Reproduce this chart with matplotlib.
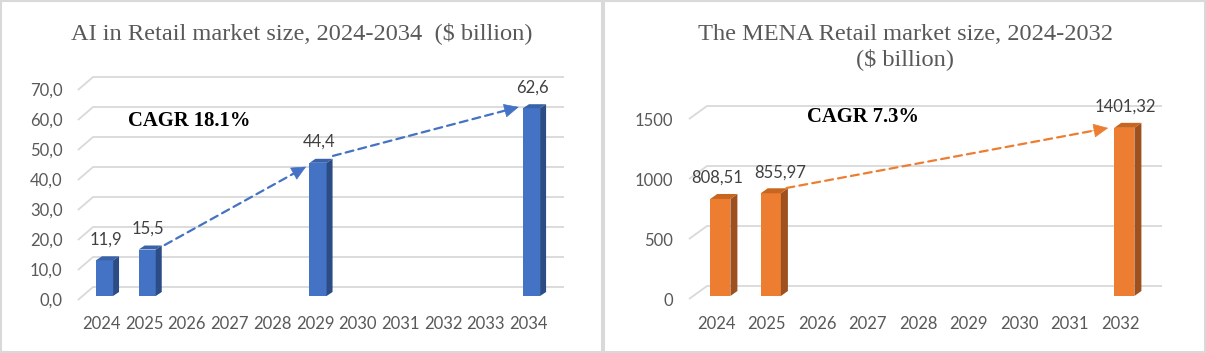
import matplotlib
matplotlib.use("Agg")
import matplotlib.pyplot as plt
from matplotlib.patches import Polygon, Rectangle
from matplotlib.transforms import blended_transform_factory, offset_copy

# ---------------- data ----------------
left_years = ["2024", "2025", "2026", "2027", "2028", "2029", "2030", "2031", "2032", "2033", "2034"]
left_values = [11.9, 15.5, None, None, None, 44.4, None, None, None, None, 62.6]
left_labels = ["11,9", "15,5", None, None, None, "44,4", None, None, None, None, "62,6"]
left_ticks = [0, 10, 20, 30, 40, 50, 60, 70]
left_ticklabels = ["0,0", "10,0", "20,0", "30,0", "40,0", "50,0", "60,0", "70,0"]
left_title = "AI in Retail market size, 2024-2034  ($ billion)"
left_cagr = "CAGR 18.1%"

right_years = ["2024", "2025", "2026", "2027", "2028", "2029", "2030", "2031", "2032"]
right_values = [808.51, 855.97, None, None, None, None, None, None, 1401.32]
right_labels = ["808,51", "855,97", None, None, None, None, None, None, "1401,32"]
right_ticks = [0, 500, 1000, 1500]
right_ticklabels = ["0", "500", "1000", "1500"]
right_title = "The MENA Retail market size, 2024-2032\n($ billion)"
right_cagr = "CAGR 7.3%"

W, H = 1206, 353
fig = plt.figure(figsize=(W / 100, H / 100), dpi=100)
fig.patch.set_facecolor("white")

SANS = ["Lato", "DejaVu Sans"]
SERIF = ["Liberation Serif", "DejaVu Serif"]
GRAY = "#595959"
GRID = "#d9d9d9"


def fig_ax(l, t, r, b):
    return fig.add_axes([l / W, 1 - b / H, (r - l) / W, (b - t) / H])


def panel(ax, years, values, labels, ticks, ticklabels, xlim, ylim,
          colors, depth, grid_frac, grid_off, lab_dx, lab_off, xlab_dx):
    ax.set_xlim(*xlim)
    ax.set_ylim(*ylim)
    ax.axis("off")
    fig.canvas.draw()
    p0 = ax.transData.transform((0, 0))
    p1 = ax.transData.transform((1, 1))
    ppx, ppy = p1[0] - p0[0], p1[1] - p0[1]
    bl = blended_transform_factory(ax.transAxes, ax.transData)
    fa, fb, fc = grid_frac
    down, up = grid_off
    for v, lab in zip(ticks, ticklabels):
        y0 = v - down / ppy
        y1 = v + up / ppy
        ax.plot([fa, fb, fc], [y0, y1, y1], transform=bl, color=GRID,
                lw=1.3, clip_on=False, zorder=1, solid_capstyle="butt")
        ax.text(lab_dx, v, lab, transform=offset_copy(bl, fig=fig, x=0, y=-4.5, units="dots"),
                ha="right", va="center", fontsize=12, color=GRAY, family=SANS)
    front, side, top = colors
    dxp, dyp = depth
    dxd, dyd = dxp / ppx, dyp / ppy
    w = 0.4
    xs = list(range(len(years)))
    bx = [x for x, v in zip(xs, values) if v is not None]
    bv = [v for v in values if v is not None]
    ax.bar(bx, bv, width=w, color=front, zorder=3, clip_on=False)
    for x, v in zip(bx, bv):
        r = x + w / 2
        l = x - w / 2
        ax.add_patch(Polygon([(r, 0), (r, v), (r + dxd, v + dyd), (r + dxd, dyd)],
                             closed=True, facecolor=side, edgecolor="none", zorder=3, clip_on=False))
        ax.add_patch(Polygon([(l, v), (r, v), (r + dxd, v + dyd), (l + dxd, v + dyd)],
                             closed=True, facecolor=top, edgecolor="none", zorder=3, clip_on=False))
    for x, y in zip(xs, years):
        ax.text(x, 0, y, transform=offset_copy(ax.transData, fig=fig, x=xlab_dx, y=-28, units="dots"),
                ha="center", va="center", fontsize=12, color=GRAY, family=SANS)
    for x, v, lab in zip(xs, values, labels):
        if v is None:
            continue
        dx = lab_off.get(lab, 1)
        ax.text(x, v, lab, transform=offset_copy(ax.transData, fig=fig, x=dx, y=21, units="dots"),
                ha="center", va="center", fontsize=12, color="#404040", family=SANS)
    return ppx, ppy


def arrow(ax, start, end, color):
    # dashed shaft
    ax.annotate("", xy=end, xytext=start,
                arrowprops=dict(arrowstyle="-", color=color, lw=1.6, ls=(0, (3.6, 2.3)),
                                shrinkA=0, shrinkB=2),
                zorder=4, annotation_clip=False)
    # solid head
    near = (start[0] + 0.93 * (end[0] - start[0]), start[1] + 0.93 * (end[1] - start[1]))
    ax.annotate("", xy=end, xytext=near,
                arrowprops=dict(arrowstyle="-|>,head_length=0.8,head_width=0.38",
                                color=color, lw=0.5, shrinkA=0, shrinkB=0, mutation_scale=12),
                zorder=4, annotation_clip=False)


# ---------------- left panel ----------------
ax1 = fig_ax(61.8, 71, 565.7, 302)
blue = ("#4472C4", "#2C4C86", "#3A62AA")
panel(ax1, left_years, left_values, left_labels, left_ticks, left_ticklabels,
      (-1, 10.8), (-2, 75), blue, (6, 4), (0.032, 0.062, 0.9966), (4, 9),
      0.0018, {}, -3)
i25, i29, i34 = 1, 5, 10
arrow(ax1, (i25 + 0.41, left_values[i25] + 1.5), (i29 - 0.28, left_values[i29] - 1.3), blue[0])
arrow(ax1, (i29 + 0.35, left_values[i29] + 2.3), (i34 - 0.30, left_values[i34] + 0.4), blue[0])
ax1.text(0.55, 58.3, left_cagr, ha="left", va="center", fontsize=14.9, fontweight="bold",
         color="black", family=SERIF)

# ---------------- right panel ----------------
ax2 = fig_ax(669.8, 92, 1164.7, 302)
orange = ("#ED7D31", "#9E501E", "#C8661F")
panel(ax2, right_years, right_values, right_labels, right_ticks, right_ticklabels,
      (-1, 8.8), (-50, 1700), orange, (7, 5), (0.0388, 0.0752, 0.9946), (3, 10),
      0.0065, {"855,97": 9, "808,51": -3}, -4)
j25, j32 = 1, 8
arrow(ax2, (j25 + 0.31, right_values[j25] + 44), (j32 - 0.32, right_values[j32] - 1), orange[0])
ax2.text(1.72, 1492, right_cagr, ha="left", va="center", fontsize=14.9, fontweight="bold",
         color="black", family=SERIF)

# ---------------- titles ----------------
fig.text(302 / W, 1 - 33 / H, left_title, ha="center", va="center", fontsize=17.6,
         color=GRAY, family=SERIF)
fig.text(905 / W, 1 - 47 / H, right_title, ha="center", va="center", fontsize=17.6,
         color=GRAY, family=SERIF, linespacing=1.15)

# ---------------- panel borders ----------------
for (x0, x1) in [(1, 601.5), (603.5, 1205)]:
    fig.add_artist(Rectangle((x0 / W, 1 / H), (x1 - x0) / W, (H - 2) / H,
                             transform=fig.transFigure, fill=False,
                             edgecolor=GRID, lw=1.5))

fig.savefig("out.png", dpi=100, facecolor="white")
